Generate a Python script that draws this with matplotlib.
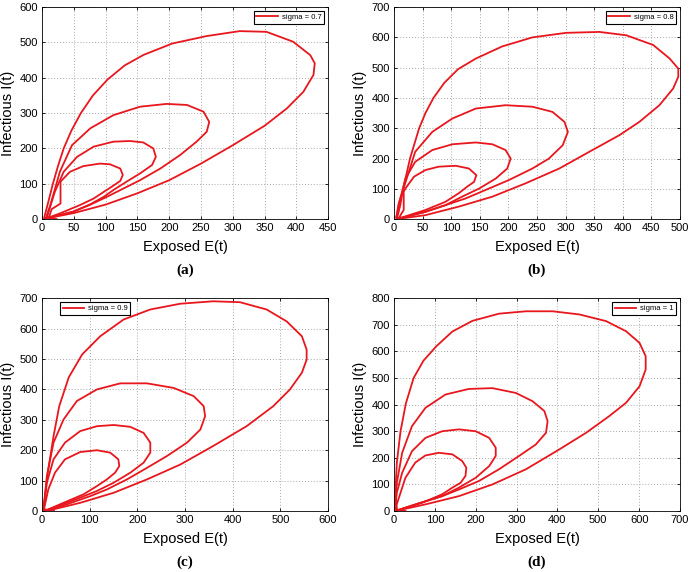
import matplotlib
matplotlib.use("Agg")
import matplotlib.pyplot as plt

# trajetórias (E, I), quatro laços por painel
a1 = [(10, 1), (15, 28), (29, 44), (29, 106), (44, 134), (65, 150), (91, 157), (107, 155), (123, 143),
      (127, 125), (123, 108), (110, 92), (97, 77), (81, 58), (60, 40), (28, 16), (5, 1)]
a2 = [(15, 0), (7, 2), (20, 77), (34, 134), (55, 176), (81, 205), (112, 219), (138, 221), (159, 217),
      (175, 200), (179, 176), (173, 153), (154, 129), (133, 106), (112, 82), (97, 63), (76, 42),
      (49, 21), (5, 1)]
a3 = [(23, 0), (6, 3), (13, 40), (28, 134), (47, 209), (76, 257), (112, 294), (154, 318), (196, 326),
      (228, 323), (254, 304), (263, 275), (259, 247), (243, 219), (217, 181), (186, 143), (154, 110),
      (123, 82), (102, 63), (75, 40), (49, 21), (5, 1)]
a4 = [(7, 0), (3, 2), (10, 50), (17, 100), (25, 150), (34, 200), (46, 250), (61, 300), (80, 350),
      (103, 395), (130, 435), (160, 465), (205, 497), (259, 518), (311, 532), (353, 530), (395, 502),
      (422, 464), (429, 441), (427, 408), (411, 360), (385, 313), (350, 264), (300, 209), (250, 157),
      (200, 110), (150, 73), (100, 41), (50, 17), (10, 3)]

b1 = [(8, 0), (12, 15), (17, 30), (17, 90), (20, 101), (35, 140), (55, 162), (78, 173), (108, 176),
      (131, 167), (144, 145), (140, 123), (128, 107), (113, 85), (90, 57), (55, 30), (5, 0)]
b2 = [(14, 0), (4, 5), (10, 60), (20, 134), (37, 189), (67, 228), (102, 247), (143, 253), (172, 247),
      (195, 228), (204, 200), (198, 167), (178, 134), (149, 101), (119, 74), (90, 46), (55, 24), (5, 0)]
b3 = [(10, 0), (4, 5), (8, 50), (26, 156), (37, 222), (67, 288), (102, 332), (143, 365), (195, 376),
      (242, 371), (277, 354), (298, 321), (304, 288), (295, 244), (271, 200), (242, 167), (201, 129),
      (160, 96), (125, 68), (90, 46), (55, 24), (5, 0)]
b4 = [(5, 0), (11, 46), (16, 100), (22, 150), (28, 200), (36, 250), (44, 300), (55, 350), (69, 400),
      (88, 450), (112, 495), (143, 530), (189, 570), (242, 600), (301, 615), (359, 618), (406, 607),
      (453, 575), (482, 530), (497, 497), (497, 470), (488, 431), (464, 376), (429, 321), (394, 277),
      (347, 228), (289, 167), (230, 118), (172, 74), (113, 41), (55, 13), (5, 0)]

c1 = [(25, 0), (4, 6), (13, 71), (27, 126), (48, 170), (80, 194), (115, 200), (143, 192), (160, 170),
      (162, 148), (153, 126), (136, 104), (115, 82), (87, 55), (45, 27), (8, 2)]
c2 = [(10, 0), (3, 5), (10, 93), (24, 170), (48, 225), (80, 263), (115, 279), (150, 283), (185, 277),
      (213, 257), (227, 225), (227, 192), (213, 159), (185, 126), (150, 93), (115, 66), (80, 44),
      (38, 19), (8, 2)]
c3 = [(15, 0), (3, 5), (10, 115), (24, 225), (45, 301), (73, 362), (115, 400), (164, 420), (220, 420),
      (276, 405), (318, 378), (339, 345), (342, 312), (332, 268), (304, 225), (262, 181), (220, 142),
      (178, 104), (136, 71), (101, 49), (52, 22), (8, 2)]
c4 = [(20, 0), (3, 4), (6, 49), (13, 137), (24, 246), (36, 345), (56, 440), (84, 515), (122, 575),
      (171, 630), (227, 663), (290, 682), (359, 690), (415, 687), (471, 663), (513, 624), (545, 575),
      (555, 531), (555, 498), (545, 455), (520, 400), (485, 345), (429, 279), (359, 214), (290, 153),
      (220, 104), (150, 60), (80, 27), (17, 3), (8, 2)]

d1 = [(20, 0), (3, 8), (12, 50), (28, 125), (52, 182), (77, 209), (110, 219), (143, 213), (167, 188),
      (177, 163), (175, 132), (163, 106), (143, 88), (118, 63), (69, 31), (3, 0)]
d2 = [(14, 0), (2, 6), (7, 69), (20, 144), (44, 225), (77, 275), (118, 300), (159, 307), (200, 300),
      (233, 275), (249, 238), (249, 207), (233, 169), (200, 125), (159, 88), (118, 56), (61, 29), (3, 0)]
d3 = [(28, 0), (2, 5), (7, 106), (20, 219), (44, 319), (77, 388), (126, 438), (183, 459), (241, 462),
      (298, 444), (339, 413), (368, 376), (376, 338), (372, 294), (347, 250), (306, 207), (257, 157),
      (208, 113), (159, 81), (118, 56), (61, 29), (3, 0)]
d4 = [(8, 0), (3, 56), (7, 182), (16, 300), (29, 404), (48, 500), (72, 565), (104, 620), (143, 675),
      (192, 715), (257, 742), (323, 751), (388, 751), (454, 739), (519, 714), (568, 676), (601, 632),
      (616, 582), (616, 532), (601, 469), (568, 407), (527, 357), (470, 294), (405, 232), (323, 157),
      (241, 100), (159, 56), (77, 25), (3, 0)]

sigmas = ["0.7", "0.8", "0.9", "1"]
letters = ["(a)", "(b)", "(c)", "(d)"]
xlims = [450, 500, 600, 700]
xsteps = [50, 50, 100, 100]
ylims = [600, 700, 700, 800]
loops = [[a1, a2, a3, a4], [b1, b2, b3, b4], [c1, c2, c3, c4], [d1, d2, d3, d4]]

# posições dos eixos em fração da figura (esq, baixo, larg, alt)
pos = [(0.061, 0.617, 0.4145, 0.3706), (0.571, 0.617, 0.4145, 0.3706),
       (0.061, 0.1066, 0.4145, 0.372), (0.571, 0.1066, 0.4145, 0.372)]
leg_anchor = [(0.986, 0.981), (0.986, 0.981), (0.063, 0.981), (0.986, 0.981)]
leg_loc = ["upper right", "upper right", "upper left", "upper right"]

red = "#e8161d"
fig = plt.figure(figsize=(6.9, 5.72), dpi=100)
plt.rcParams["font.family"] = ["Liberation Sans", "DejaVu Sans"]

for k in range(4):
    ax = fig.add_axes(pos[k])
    for n, curve in enumerate(loops[k]):
        E = [p[0] for p in curve]
        I = [p[1] for p in curve]
        ax.plot(E, I, color=red, lw=1.3, solid_joinstyle="round",
                label="sigma = " + sigmas[k] if n == 0 else None)
    ax.set_xlim(0, xlims[k])
    ax.set_ylim(0, ylims[k])
    ax.set_xticks(range(0, xlims[k] + 1, xsteps[k]))
    ax.set_yticks(range(0, ylims[k] + 1, 100))
    ax.tick_params(direction="in", length=2.5, width=0.6, labelsize=8, top=True, right=True, pad=3)
    ax.grid(True, color="#a8a8a8", linestyle=(0, (1, 2)), linewidth=0.7)
    for s in ax.spines.values():
        s.set_linewidth(0.6)
    ax.set_xlabel("Exposed E(t)", fontsize=10.5, labelpad=5)
    ax.set_ylabel("Infectious I(t)", fontsize=10.5, labelpad=3)
    leg = ax.legend(loc=leg_loc[k], bbox_to_anchor=leg_anchor[k], fontsize=5.5, fancybox=False,
                    framealpha=1, edgecolor="black", handlelength=2.8, handletextpad=0.5,
                    borderpad=0.35, borderaxespad=0)
    leg.get_frame().set_linewidth(0.8)
    x0, y0, w, h = pos[k]
    fig.text(x0 + w / 2, y0 - 0.089, letters[k], ha="center", va="center",
             fontsize=11, fontweight="bold", family="Liberation Serif")

fig.savefig("out.png", dpi=100)
